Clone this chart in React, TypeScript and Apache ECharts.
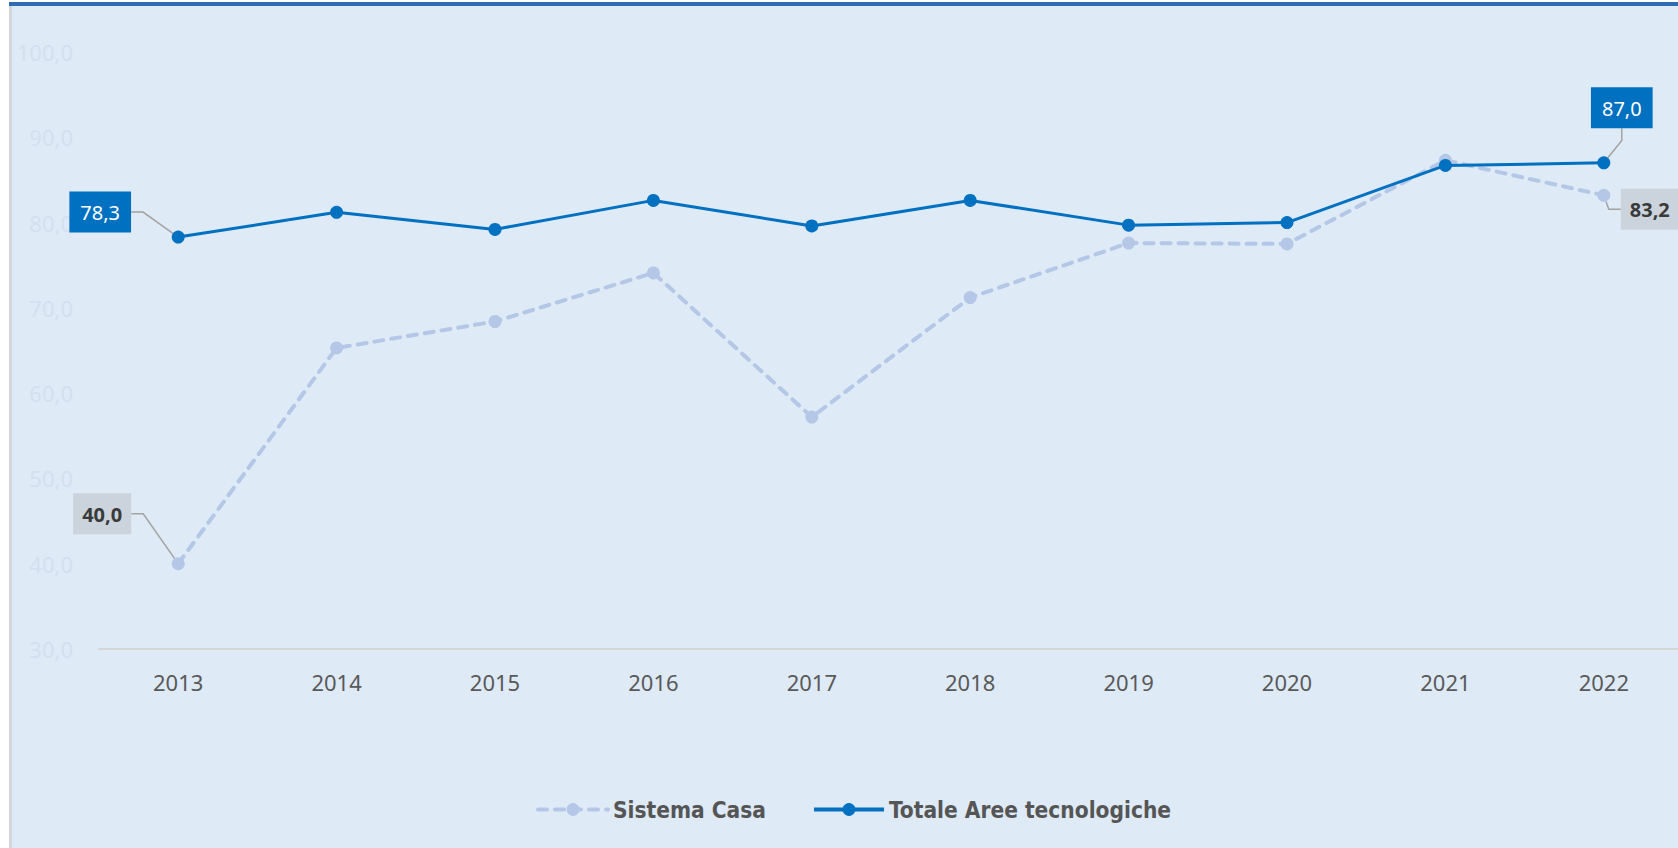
import React, { useEffect, useRef } from "react";
import * as echarts from "echarts";

const years = ["2013", "2014", "2015", "2016", "2017", "2018", "2019", "2020", "2021", "2022"];
const sistemaCasa = [40.0, 65.3, 68.4, 74.1, 57.2, 71.2, 77.6, 77.5, 87.3, 83.2];
const totaleAree = [78.3, 81.2, 79.2, 82.6, 79.6, 82.6, 79.7, 80.0, 86.7, 87.0];
const seriesNames = ["Sistema Casa", "Totale Aree tecnologiche"];

const fmt = (v: number) => v.toFixed(1).replace(".", ",");
const FONT = "'Noto Sans', 'Open Sans', sans-serif";
const LEGEND_FONT = "'Liberation Sans Narrow', 'DejaVu Sans Condensed', 'Roboto', sans-serif";

export default function App() {
  const ref = useRef<HTMLDivElement>(null);
  useEffect(() => {
    if (!ref.current) return;
    const chart = echarts.init(ref.current, undefined, { renderer: "svg" });
    const last = years.length - 1;

    const blueLabel = {
      show: true,
      formatter: (p: any) => fmt(p.value),
      color: "#ffffff",
      backgroundColor: "#0070C0",
      fontFamily: FONT,
      fontSize: 20,
      lineHeight: 22,
      padding: [10, 11, 9, 11],
    };
    const grayLabel = {
      show: true,
      formatter: (p: any) => fmt(p.value),
      color: "#3a3a3a",
      fontWeight: "bold",
      backgroundColor: "#CBD3DC",
      fontFamily: FONT,
      fontSize: 20,
      lineHeight: 22,
      padding: [10, 9, 9, 9],
    };
    const guide = { show: true, length2: 12, lineStyle: { color: "#A3A3A3", width: 1.5 } };

    const mkData = (arr: number[], label: any) =>
      arr.map((v, i) =>
        i === 0 || i === last
          ? { value: v, label, labelLine: guide }
          : { value: v, label: { show: false } }
      );

    chart.setOption({
      animation: false,
      backgroundColor: "#ffffff",
      graphic: [
        { type: "rect", z: -10, shape: { x: 12, y: 6, width: 1700, height: 845 }, style: { fill: "#DEEAF6" } },
        { type: "rect", z: -10, shape: { x: 9, y: 2, width: 1700, height: 4 }, style: { fill: "#2F6DB3" } },
        { type: "rect", z: -10, shape: { x: 9, y: 6, width: 3, height: 845 }, style: { fill: "#D3D7DC" } },
      ],
      grid: { left: 99, right: 17, top: 52, bottom: 199, containLabel: false },
      legend: {
        bottom: 22,
        left: 531,
        itemWidth: 70,
        itemHeight: 16,
        itemGap: 46,
        data: seriesNames,
        lineStyle: { width: 4 },
        textStyle: { fontFamily: LEGEND_FONT, fontWeight: "bold", fontSize: 22.5, color: "#555555" },
      },
      xAxis: {
        type: "category",
        data: years,
        boundaryGap: true,
        axisLine: { show: true, lineStyle: { color: "#D6D6D6", width: 2 } },
        axisTick: { show: false },
        axisLabel: { color: "#595959", fontFamily: FONT, fontSize: 22, margin: 22 },
        splitLine: { show: false },
      },
      yAxis: {
        type: "value",
        min: 30,
        max: 100,
        interval: 10,
        axisLine: { show: false },
        axisTick: { show: false },
        splitLine: { show: false },
        axisLabel: {
          color: "#D4E0EF",
          fontFamily: FONT,
          fontSize: 22,
          margin: 26,
          formatter: (v: number) => fmt(v),
        },
      },
      series: [
        {
          name: seriesNames[0],
          type: "line",
          data: mkData(sistemaCasa, grayLabel),
          symbol: "circle",
          symbolSize: 13,
          z: 2,
          itemStyle: { color: "#B4C7E7" },
          lineStyle: { color: "#B4C7E7", width: 4, type: [9, 8], cap: "round" },
          labelLayout: (p: any) => {
            if (p.dataIndex === 0) return { dx: -76, dy: -18 };
            if (p.dataIndex === last) return { dx: 46, dy: 46 };
            return {};
          },
        },
        {
          name: seriesNames[1],
          type: "line",
          data: mkData(totaleAree, blueLabel),
          symbol: "circle",
          symbolSize: 13,
          z: 3,
          itemStyle: { color: "#0070C0" },
          lineStyle: { color: "#0070C0", width: 3 },
          labelLayout: (p: any) => {
            if (p.dataIndex === 0) return { dx: -78, dy: 7 };
            if (p.dataIndex === last) return { dx: 18, dy: -23 };
            return {};
          },
        },
      ],
    });
    return () => chart.dispose();
  }, []);
  return (
    <div style={{ position: "absolute", left: 0, top: 0, width: 1678, height: 848, overflow: "hidden" }}>
      <div ref={ref} style={{ width: 1700, height: 848 }} />
    </div>
  );
}
